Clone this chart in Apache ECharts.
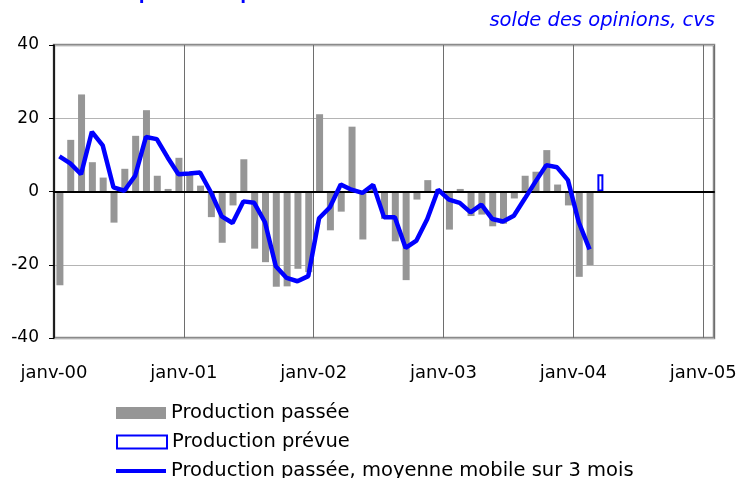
<!DOCTYPE html>
<html lang="fr">
<head>
<meta charset="UTF-8">
<title>Production passée et prévue</title>
<script src="https://cdn.jsdelivr.net/npm/echarts@6/dist/echarts.min.js"></script>
<style>
  html, body { margin: 0; padding: 0; background: #fff; }
  #main { width: 744px; height: 478px; }
</style>
</head>
<body>
<div id="main"></div>
<script>
// données (janv-00 .. févr-04)
var moisNoms = ['janv', 'févr', 'mars', 'avr', 'mai', 'juin', 'juil', 'août', 'sept', 'oct', 'nov', 'déc'];
var annees = ['00', '01', '02', '03', '04', '05'];
var tickLabels = ['janv-00', 'janv-01', 'janv-02', 'janv-03', 'janv-04', 'janv-05'];

var prodPassee = [
  -25.6, 14.1, 26.5, 8.0, 3.8, -8.5, 6.2, 15.2, 22.2, 4.3, 0.7, 9.2,
  4.8, 1.6, -7.0, -14.0, -3.8, 8.8, -15.6, -19.3, -26.0, -25.9, -21.1, -22.0,
  21.1, -10.6, -5.5, 17.7, -13.1, 0.8, -7.5, -13.6, -24.2, -2.2, 3.1, 0.6,
  -10.4, 0.7, -6.7, -6.3, -9.5, -8.8, -1.9, 4.3, 5.4, 11.3, 1.9, -3.8,
  -23.3, -20.1
];
var prevueIndex = 50;   // mars-04
var prevueValeur = 4.7;
var moyenneMobile = [
  9.6, 7.7, 4.7, 16.3, 12.6, 1.1, 0.2, 4.3, 14.9, 14.3, 9.3, 4.7,
  4.9, 5.2, -0.2, -6.8, -8.6, -2.7, -3.1, -8.4, -20.4, -23.6, -24.5, -23.1,
  -7.3, -4.3, 1.9, 0.5, -0.4, 1.8, -7.0, -7.0, -15.4, -13.4, -7.5, 0.5,
  -2.2, -3.1, -5.7, -3.6, -7.5, -8.2, -6.6, -2.0, 2.7, 7.2, 6.6, 3.1,
  -8.4, -15.8
];

// le texte de l'original est étiré en largeur : police large
var police = 'DejaVu Sans, Verdana, sans-serif';
var policeTitre = 'Liberation Sans, Arial, sans-serif';

// 61 mois : janv-00 .. janv-05
var categories = [];
for (var a = 0; a < annees.length; a++) {
  for (var m = 0; m < 12; m++) {
    if (a === annees.length - 1 && m > 0) break;
    categories.push(moisNoms[m] + '-' + annees[a]);
  }
}
var prevue = categories.map(function (c, i) { return i === prevueIndex ? prevueValeur : null; });

// une légende par ligne, empilées à gauche
function legende(nom, top, h) {
  return {
    orient: 'vertical', left: 116, top: top, padding: 0,
    itemWidth: 50, itemHeight: h,
    textStyle: { fontSize: 19.5, color: '#000', fontFamily: police },
    data: [{ name: nom, icon: 'rect' }]
  };
}

var myChart = echarts.init(document.getElementById('main'));
var option = {
  animation: false,
  textStyle: { fontFamily: police },
  graphic: [
    {
      type: 'text', x: 22, y: -7,
      style: { text: 'Production passée et prévue', fill: '#0000ff', font: 'bold 21px ' + policeTitre, verticalAlign: 'middle' }
    },
    {
      type: 'text', x: 715, y: 21,
      style: { text: 'solde des opinions, cvs', fill: '#0000ff', font: 'italic 19.5px ' + police, align: 'right', verticalAlign: 'middle' }
    }
  ],
  grid: {
    left: 54, right: 30, top: 45, bottom: 140,
    show: true, borderColor: '#8a8a8a', borderWidth: 2.5
  },
  legend: [
    legende('Production passée', 403, 12),
    legende('Production prévue', 432, 13),
    legende('Production passée, moyenne mobile sur 3 mois', 461, 4)
  ],
  xAxis: [
    {
      type: 'category',
      data: categories,
      boundaryGap: true,
      position: 'bottom',
      axisLine: { onZero: true, lineStyle: { color: '#000', width: 2 } },
      axisTick: { show: false },
      axisLabel: { show: false },
      splitLine: { show: false },
      z: 5
    },
    {
      type: 'value',
      min: 0, max: 61, interval: 12,
      position: 'bottom',
      axisLine: { show: false },
      axisTick: { show: false },
      axisLabel: {
        fontSize: 18, color: '#000', margin: 26, fontFamily: police,
        formatter: function (v) { return v % 12 === 0 ? tickLabels[v / 12] : ''; }
      },
      splitLine: { show: true, lineStyle: { color: '#6e6e6e', width: 1 } }
    }
  ],
  yAxis: {
    type: 'value',
    min: -40, max: 40, interval: 20,
    axisLine: { show: true, onZero: false, lineStyle: { color: '#000', width: 1.5 } },
    axisTick: { show: true, length: 5, lineStyle: { color: '#000' } },
    axisLabel: { fontSize: 17, color: '#000', margin: 15, fontFamily: police },
    splitLine: { show: true, lineStyle: { color: '#b4b4b4', width: 1 } }
  },
  series: [
    {
      name: 'Production passée',
      type: 'bar',
      xAxisIndex: 0,
      data: prodPassee,
      barWidth: 7,
      barGap: '-100%',
      itemStyle: { color: '#969696' }
    },
    {
      name: 'Production prévue',
      type: 'bar',
      xAxisIndex: 0,
      data: prevue,
      barWidth: 6,
      barGap: '-100%',
      itemStyle: { color: '#ffffff', borderColor: '#0000ff', borderWidth: 2 }
    },
    {
      name: 'Production passée, moyenne mobile sur 3 mois',
      type: 'line',
      xAxisIndex: 0,
      data: moyenneMobile,
      symbol: 'none',
      color: '#0000ff',
      lineStyle: { color: '#0000ff', width: 4.5 },
      z: 10
    }
  ]
};
myChart.setOption(option);
</script>
</body>
</html>
